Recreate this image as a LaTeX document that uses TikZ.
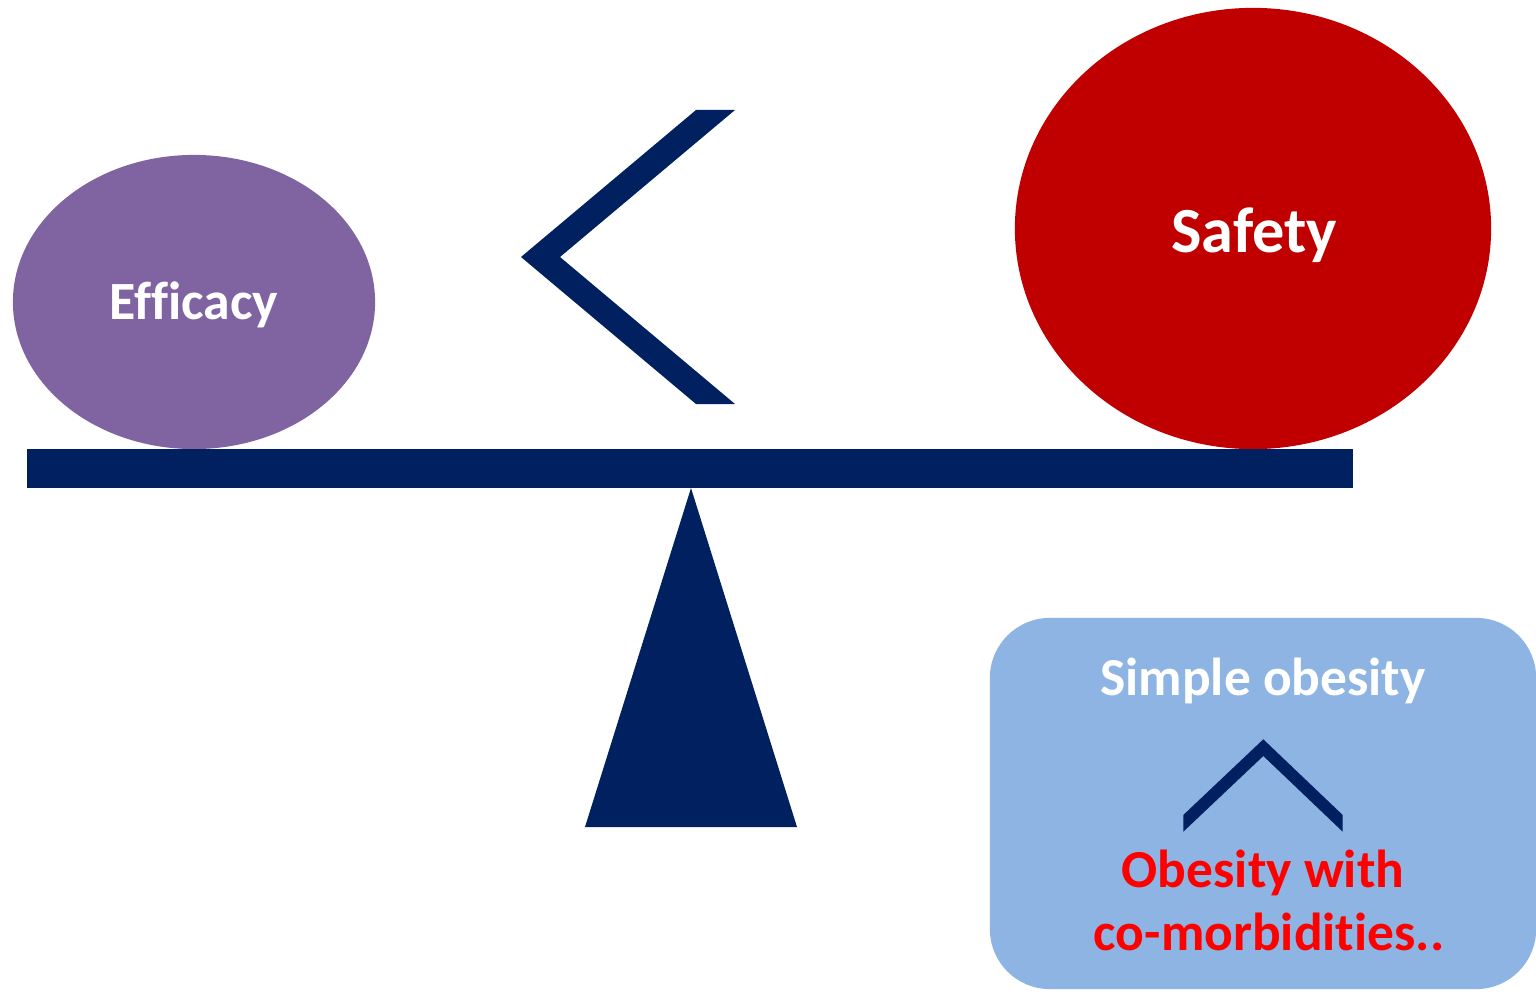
\documentclass[tikz,border=0pt]{standalone}
\usepackage{fontspec}
\setmainfont{Carlito}[RawFeature={-liga;-clig;-dlig;-calt}]
\usetikzlibrary{shapes.geometric}
\definecolor{navy}{HTML}{002060}
\definecolor{effpurple}{HTML}{8064A2}
\definecolor{safered}{HTML}{C00000}
\definecolor{boxblue}{HTML}{8EB4E3}
\definecolor{alertred}{HTML}{FF0000}
\tikzset{
  weight/.style={ellipse, draw=none, inner sep=0pt},
  lbl/.style={anchor=base, inner sep=0pt, font=\bfseries},
  beam/.style={fill=navy, draw=none}
}
\begin{document}
\begin{tikzpicture}[x=0.01cm, y=-0.01cm]
\useasboundingbox (0,0) rectangle (1536,994);

% weights on the scale
\node[weight, fill=effpurple, minimum width=3.62cm, minimum height=2.94cm] (eff) at (194,302) {};
\node[weight, fill=safered, minimum width=4.76cm, minimum height=4.41cm] (saf) at (1253,228.5) {};
\node[lbl, text=white, font=\bfseries\fontsize{15.3}{18}\selectfont] (efft) at (194,320) {Ef\kern0ptf\kern0pticacy};
\node[lbl, text=white, font=\bfseries\fontsize{18.3}{21}\selectfont] (saft) at (1254,252) {Safety};

% beam and fulcrum
\fill[beam] (27,449) rectangle (1353,488);
\fill[beam] (691,488) -- (797,827) -- (585,827) -- cycle;

% "less than" chevron
\fill[beam] (735,110) -- (696,110) -- (521,257) -- (696,404) -- (735,404) -- (560,257) -- cycle;

% inset box
\node[draw=none, fill=boxblue, rounded corners=0.6cm, minimum width=5.46cm, minimum height=3.71cm, inner sep=0pt] (box) at (1263,803.5) {};
\node[lbl, text=white, font=\bfseries\fontsize{15.2}{18}\selectfont] (simple) at (1263,695) {Simple obesity};
\fill[beam] (1183.3,831.7) -- (1183.3,815) -- (1263.3,739.3) -- (1342.7,815) -- (1342.7,831.7) -- (1263.3,756) -- cycle;
\node[lbl, text=alertred, font=\bfseries\fontsize{15.2}{18}\selectfont] (comorb1) at (1263,887) {Obesity with};
\node[lbl, text=alertred, font=\bfseries\fontsize{15.2}{18}\selectfont] (comorb2) at (1269,950) {co-morbidit\kern0pties..};
\end{tikzpicture}
\end{document}
